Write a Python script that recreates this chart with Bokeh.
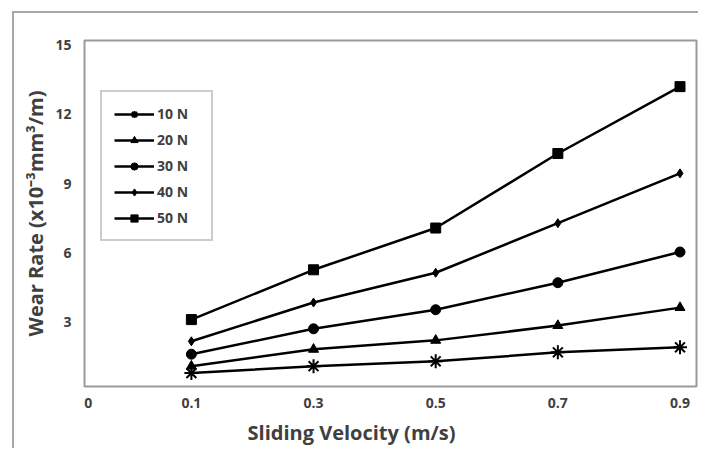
from bokeh.plotting import figure
from bokeh.models import FixedTicker, Range1d, Legend, LegendItem
from bokeh.embed import file_html
from bokeh.resources import INLINE

velocity = [0.1, 0.3, 0.5, 0.7, 0.9]
load_labels = ["10 N", "20 N", "30 N", "40 N", "50 N"]
wear_10n = [0.78, 1.08, 1.29, 1.68, 1.9]
wear_20n = [1.08, 1.81, 2.2, 2.84, 3.62]
wear_30n = [1.6, 2.7, 3.53, 4.7, 6.03]
wear_40n = [2.16, 3.84, 5.13, 7.28, 9.44]
wear_50n = [3.1, 5.26, 7.07, 10.3, 13.2]
x_tick_values = [-0.069, 0.1, 0.3, 0.5, 0.7, 0.9]
x_tick_labels = ["0", "0.1", "0.3", "0.5", "0.7", "0.9"]
y_tick_values = [3, 6, 9, 12, 15]

FONT = "Open Sans"
TXT = "#404040"

p = figure(width=698, height=448, output_backend="svg", toolbar_location=None,
           x_range=Range1d(-0.075, 0.927), y_range=Range1d(0.2, 15.2),
           min_border_left=84, min_border_top=40, min_border_right=2, min_border_bottom=61)
p.border_fill_color = None
p.background_fill_color = "white"
p.styles = {
    "background-color": "white",
    "background-image": "linear-gradient(#a8a8a8, #a8a8a8), linear-gradient(#a8a8a8, #a8a8a8)",
    "background-size": "2px 440px, 690px 2px",
    "background-position": "12px 11px, 12px 11px",
    "background-repeat": "no-repeat",
}
p.outline_line_color = "#9a9a9a"
p.outline_line_width = 2
p.xgrid.visible = False
p.ygrid.visible = False

for ax in (p.xaxis[0], p.yaxis[0]):
    ax.axis_line_color = None
    ax.major_tick_line_color = None
    ax.minor_tick_line_color = None
    ax.major_label_text_font = FONT
    ax.major_label_text_font_style = "bold"
    ax.major_label_text_font_size = "14px"
    ax.major_label_text_color = TXT
    ax.axis_label_text_font = FONT
    ax.axis_label_text_font_style = "bold"
    ax.axis_label_text_font_size = "20px"
    ax.axis_label_text_color = TXT

p.xaxis.ticker = FixedTicker(ticks=x_tick_values)
p.xaxis.major_label_overrides = {v: l for v, l in zip(x_tick_values, x_tick_labels)}
p.xaxis.major_label_standoff = 5
p.xaxis.axis_label = "Sliding Velocity (m/s)" + "\u00a0" * 15
p.xaxis.axis_label_standoff = 8
p.yaxis.ticker = FixedTicker(ticks=y_tick_values)
p.yaxis.major_label_standoff = 7
p.yaxis.axis_label = "Wear Rate (x10\u207b\u00b3mm\u00b3/m)"
p.yaxis.axis_label_standoff = 3

series = [wear_10n, wear_20n, wear_30n, wear_40n, wear_50n]
markers = ["asterisk", "triangle", "circle", "diamond", "square"]
sizes = [14, 10, 10, 9, 10]
items = []
for lab, vals, mk, sz in zip(load_labels, series, markers, sizes):
    l = p.line(velocity, vals, line_color="black", line_width=2.5)
    s = p.scatter(velocity, vals, marker=mk, size=sz, fill_color="black",
                  line_color="black", line_width=2 if mk == "asterisk" else 1)
    items.append(LegendItem(label=lab, renderers=[l, s]))

legend = Legend(items=items, location=(16, 145))
legend.border_line_color = "#9a9a9a"
legend.border_line_width = 2
legend.padding = 12
legend.spacing = 7
legend.label_height = 18
legend.glyph_height = 18
legend.glyph_width = 40
legend.label_width = 42
legend.label_standoff = 3
legend.label_text_font = FONT
legend.label_text_font_style = "bold"
legend.label_text_font_size = "14px"
legend.label_text_color = TXT
legend.margin = 0
p.add_layout(legend, "center")

open("out.html", "w").write(file_html(p, INLINE))
